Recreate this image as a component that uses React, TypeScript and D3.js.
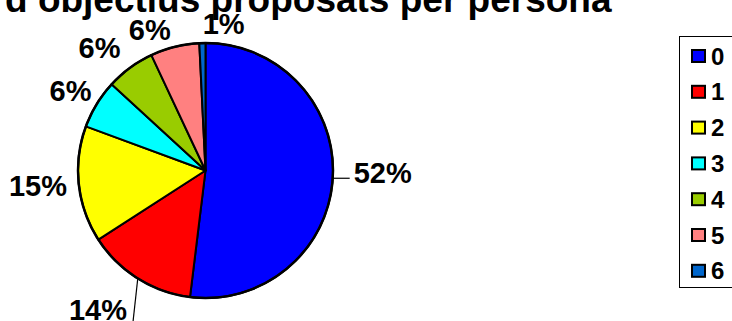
import React from "react";
import * as d3 from "d3";

const categories = ["0", "1", "2", "3", "4", "5", "6"];
const counts = [67, 18, 19, 8, 8, 8, 1];
const colors = ["#0000FF", "#FF0000", "#FFFF00", "#00FFFF", "#99CC00", "#FF8080", "#0066CC"];
const titleText = "d objectius proposats per persona";

// layout tweaks (label drags relative to automatic placement)
const labelNudge: [number, number][] = [
  [9, -7],
  [-18, 12],
  [0, -1],
  [2, -2],
  [-11, -2],
  [-17, 5],
  [22, 3],
];
const hasLeader = [true, true, false, false, false, false, false];

const W = 732;
const H = 321;
const cx = 205.5;
const cy = 170.5;
const r = 127.5;
const FONT = "'Liberation Sans', Arial, sans-serif";
const LABEL_SIZE = 29;

export default function App() {
  const total = d3.sum(counts);
  const pie = d3.pie<number>().sort(null).startAngle(0).endAngle(2 * Math.PI)(counts);
  const arc = d3.arc<d3.PieArcDatum<number>>().innerRadius(0).outerRadius(r);
  const fmt = (v: number) => `${Math.round((v / total) * 100)}%`;

  const measure = (s: string) => {
    let w = 0;
    for (const ch of s) w += ch === "%" ? 0.889 : 0.556;
    return w * LABEL_SIZE;
  };

  const labels = pie.map((d, i) => {
    const mid = (d.startAngle + d.endAngle) / 2;
    const s = Math.sin(mid);
    const c = Math.cos(mid);
    const R = r + 12;
    const px = cx + R * s;
    const py = cy - R * c;
    const txt = fmt(d.value);
    const w = measure(txt);
    const h = 21;
    const mx = px + (s * w) / 2 + labelNudge[i][0];
    const my = py - (c * h) / 2 + labelNudge[i][1];
    const ax = cx + r * s;
    const ay = cy - r * c;
    return { txt, mx, my, w, h, ax, ay, i };
  });

  const legendTop = 36;
  const rowStart = 56;
  const rowStep = 35.8;

  return (
    <div style={{ position: "absolute", left: 0, top: 0 }}>
      <svg width={W} height={H} style={{ display: "block", background: "#fff" }}>
        <text x={5} y={12} fontFamily={FONT} fontWeight="bold" fontSize={37} fill="#000">
          {titleText}
        </text>
        <g transform={`translate(${cx},${cy})`}>
          {pie.map((d, i) => (
            <path key={i} d={arc(d) || ""} fill={colors[i]} stroke="#000" strokeWidth={2} strokeLinejoin="round" />
          ))}
          <circle r={r} fill="none" stroke="#000" strokeWidth={2.5} />
        </g>
        {labels.map((l) => {
          const left = l.mx - l.w / 2;
          const right = l.mx + l.w / 2;
          const baseline = l.my + l.h / 2;
          let leader = null;
          if (hasLeader[l.i]) {
            const toRight = l.ax < left;
            const ex = toRight ? left - 4 : right + 6;
            const ey = toRight ? l.ay : Math.max(l.ay, baseline) + 2;
            leader = <line x1={l.ax} y1={l.ay} x2={ex} y2={ey} stroke="#000" strokeWidth={1.2} />;
          }
          return (
            <g key={l.i}>
              {leader}
              <text
                x={l.mx}
                y={baseline}
                textAnchor="middle"
                fontFamily={FONT}
                fontWeight="bold"
                fontSize={LABEL_SIZE}
                fill="#000"
              >
                {l.txt}
              </text>
            </g>
          );
        })}
        <rect x={679.5} y={legendTop + 0.5} width={70} height={251} fill="#fff" stroke="#000" strokeWidth={1} />
        {categories.map((c, i) => {
          const yc = rowStart + i * rowStep;
          return (
            <g key={c}>
              <rect x={692} y={yc - 6} width={13} height={12} fill={colors[i]} stroke="#000" strokeWidth={2} />
              <text x={711} y={yc + 8.6} fontFamily={FONT} fontWeight="bold" fontSize={24} fill="#000">
                {c}
              </text>
            </g>
          );
        })}
      </svg>
    </div>
  );
}
